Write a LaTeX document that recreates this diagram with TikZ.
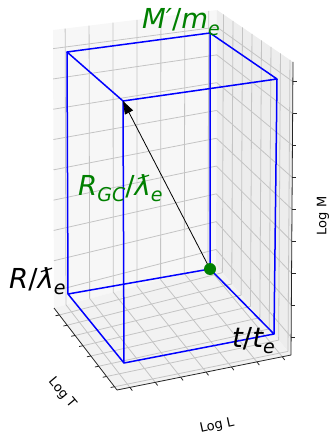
\documentclass[tikz,border=0pt]{standalone}
\usepackage{fontspec}
\setmainfont{DejaVu Sans}
\usetikzlibrary{arrows.meta,calc}
\definecolor{mplgreen}{HTML}{008000}
\definecolor{gridgray}{HTML}{C4C4C4}
\newcommand{\lsub}[1]{\raisebox{-0.22em}{\fontsize{19}{19}\selectfont #1}}

\begin{document}
\begin{tikzpicture}[x=1pt,y=-1pt,
  gridline/.style={draw=gridgray, line width=0.8pt},
  axisline/.style={draw=black!85, line width=0.8pt},
  boxline/.style={draw=blue, line width=1.5pt, line join=round},
  biglabel/.style={anchor=base west, inner sep=0pt, font=\fontsize{27.5}{30}\selectfont\itshape},
  axlabel/.style={inner sep=0pt, font=\fontsize{13}{15}\selectfont},
  ar/.style={-{Triangle[length=13pt,width=9pt]}, line width=0.8pt}]
  \useasboundingbox (0,0) rectangle (334,438);

  % pane corners
  \coordinate (pBL) at (54,308);
  \coordinate (pF) at (117,390);
  \coordinate (pR) at (291,355);
  \coordinate (pK) at (216,265);
  \coordinate (pTL) at (53,30);
  \coordinate (pTK) at (217,10);
  \coordinate (pTR) at (293,62);

  \fill[black!3] (pBL) -- (pK) -- (pTK) -- (pTL) -- cycle;
  \fill[black!7] (pK) -- (pR) -- (pTR) -- (pTK) -- cycle;
  \fill[black!5] (pBL) -- (pF) -- (pR) -- (pK) -- cycle;

  % grid
  \foreach \u in {0.074,0.220,0.366,0.512,0.658,0.804,0.950} {
    \draw[gridline] ($(pBL)!\u!(pK)$) -- ($(pTL)!\u!(pTK)$);
    \draw[gridline] ($(pBL)!\u!(pK)$) -- ($(pF)!\u!(pR)$);
  }
  \foreach \v in {0.085,0.210,0.335,0.460,0.585,0.710,0.835,0.960} {
    \draw[gridline] ($(pBL)!\v!(pF)$) -- ($(pK)!\v!(pR)$);
    \draw[gridline] ($(pK)!\v!(pR)$) -- ($(pTK)!\v!(pTR)$);
  }
  \foreach \w in {0.061,0.170,0.279,0.388,0.497,0.606,0.715,0.824,0.933} {
    \draw[gridline] ($(pBL)!\w!(pTL)$) -- ($(pK)!\w!(pTK)$);
    \draw[gridline] ($(pK)!\w!(pTK)$) -- ($(pR)!\w!(pTR)$);
  }

  % axes
  \draw[axisline] (pF) -- (pR);
  \draw[axisline] (pBL) -- (pF);
  \draw[axisline] (pR) -- (pTR);
  \foreach \u in {0.074,0.220,0.366,0.512,0.658,0.804,0.950}
    \draw[axisline] ($(pF)!\u!(pR)$) -- ++(2.4,3.2);
  \foreach \v in {0.085,0.210,0.335,0.460,0.585,0.710,0.835,0.960}
    \draw[axisline] ($(pBL)!\v!(pF)$) -- ++(-3.9,0.8);
  \foreach \w in {0.061,0.170,0.279,0.388,0.497,0.606,0.715,0.824,0.933}
    \draw[axisline] ($(pR)!\w!(pTR)$) -- ++(4,0);

  \node[axlabel, rotate=12] (labL) at (217,426) {Log L};
  \node[axlabel, rotate=-50] (labT) at (62,393) {Log T};
  \node[axlabel, rotate=90] (labM) at (323,216) {Log M};

  % box
  \coordinate (bBL) at (68,294);
  \coordinate (bBR) at (210,269);
  \coordinate (bFR) at (274,334);
  \coordinate (bFL) at (124,363);
  \coordinate (tBL) at (67,52);
  \coordinate (tBR) at (210,33);
  \coordinate (tFR) at (277,79);
  \coordinate (tFL) at (123,101);

  \draw[boxline] (bBL) -- (bBR) -- (bFR) -- (bFL) -- cycle;
  \draw[boxline] (tBL) -- (tBR) -- (tFR) -- (tFL) -- cycle;
  \draw[boxline] (bBL) -- (tBL) (bBR) -- (tBR) (bFR) -- (tFR) (bFL) -- (tFL);

  \draw[ar] (bBR) -- (tFL);
  \node[circle, fill=mplgreen, minimum size=12pt, inner sep=0pt] (dot) at (bBR) {};

  \node[biglabel, text=mplgreen] (lblM) at (142,29) {M′{\upshape/}m\lsub{e}};
  \node[biglabel, text=mplgreen] (lblRGC) at (78,195) {R\lsub{GC}{\upshape/}ƛ\lsub{e}};
  \node[biglabel] (lblR) at (9,288) {R{\upshape/}ƛ\lsub{e}};
  \node[biglabel] (lblt) at (232,347) {t{\upshape/}t\lsub{e}};
\end{tikzpicture}
\end{document}
